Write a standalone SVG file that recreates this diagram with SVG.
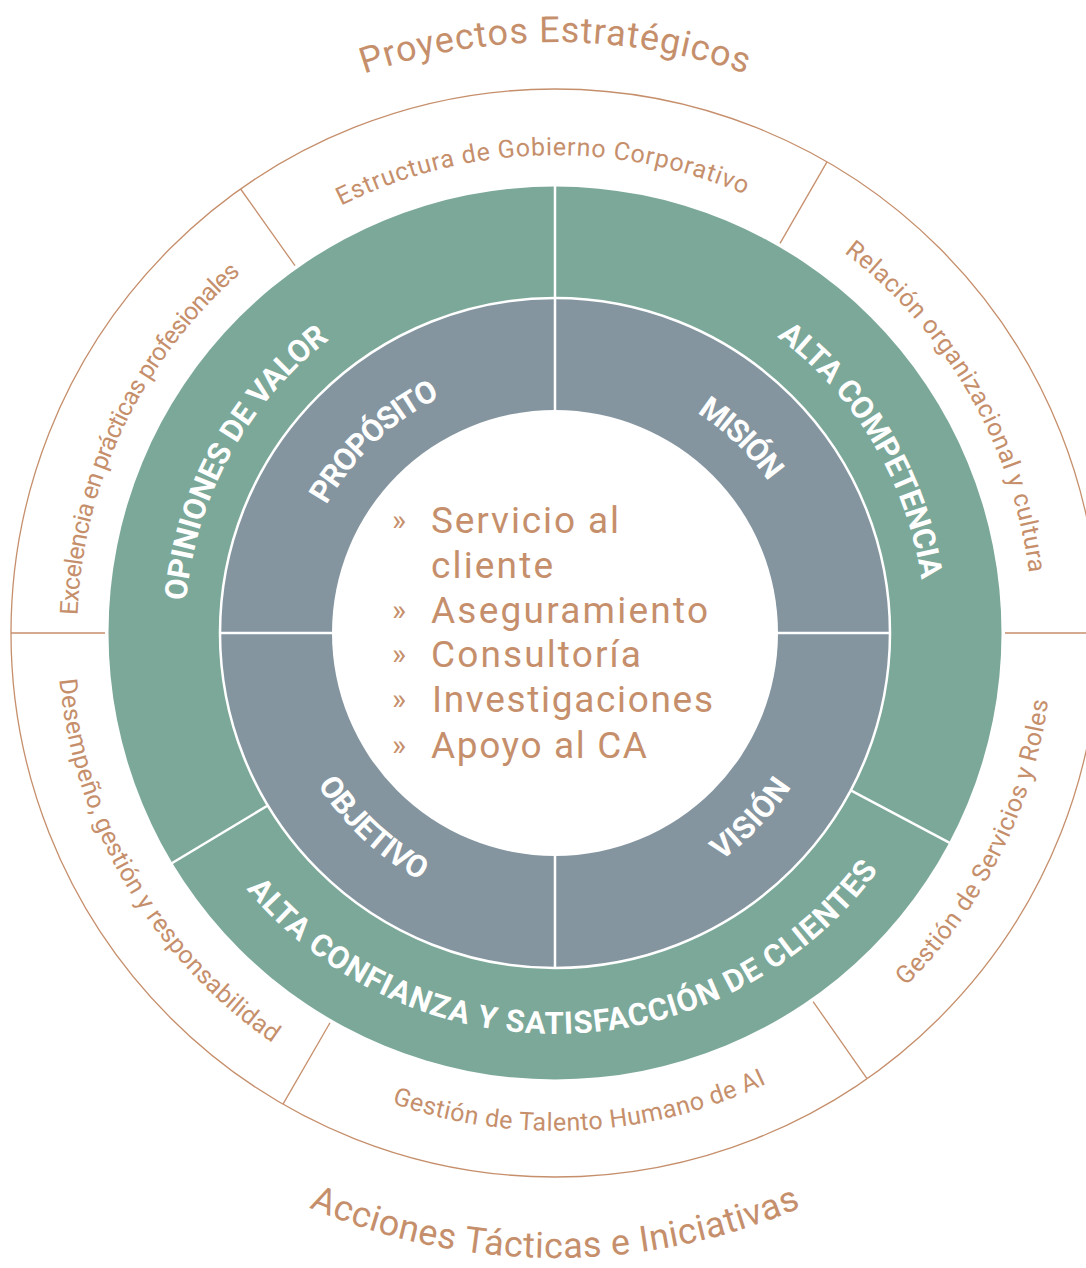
<svg xmlns="http://www.w3.org/2000/svg" width="1086" height="1268" viewBox="0 0 1086 1268">
<defs>
<path id="up591" d="M -27 530.4 A 591 591 0 0 1 1137 530.4"/>
<path id="lo625" d="M -60.5 741.5 A 625 625 0 0 0 1170.5 741.5"/>
<path id="up478" d="M 84.3 550 A 478 478 0 0 1 1025.7 550"/>
<path id="lo498" d="M 64.6 719.5 A 498 498 0 0 0 1045.4 719.5"/>
<path id="up370" d="M 190.6 568.7 A 370 370 0 0 1 919.4 568.7"/>
<path id="lo401" d="M 160.1 702.6 A 401 401 0 0 0 949.9 702.6"/>
<path id="up262" d="M 297 587.5 A 262 262 0 0 1 813 587.5"/>
<path id="lo282" d="M 277.3 682 A 282 282 0 0 0 832.7 682"/>
</defs>
<style>
.tan{fill:#c68f6c;font-family:Roboto,"Liberation Sans",sans-serif;}
.title{font-size:36px;}
.ring{font-size:25px;}
.lbl{fill:#fff;font-family:Roboto,"Liberation Sans",sans-serif;font-weight:700;font-size:31px;}
.list{font-size:37px;}
.bul{font-size:30px;}
.ln-tan{stroke:#c68f6c;stroke-width:1.3;fill:none;}
.ln-w{stroke:#fff;stroke-width:2.5;}
</style>
<rect width="1086" height="1268" fill="#fff"/>

<g id="rings">
<circle cx="555" cy="633" r="544" class="ln-tan"/>
<circle cx="555" cy="633" r="446.5" fill="#7ba899"/>
<circle cx="555" cy="633" r="335" fill="#8495a0" stroke="#fff" stroke-width="2.5"/>
<circle cx="555" cy="633" r="223" fill="#fff"/>
</g>

<g id="connectors">
<line class="ln-tan" x1="780" y1="243.3" x2="827" y2="161.9"/>
<line class="ln-tan" x1="295" y1="265.7" x2="240.6" y2="189"/>
<line class="ln-tan" x1="105" y1="633" x2="11" y2="633"/>
<line class="ln-tan" x1="1005" y1="633" x2="1099" y2="633"/>
<line class="ln-tan" x1="330" y1="1022.7" x2="283" y2="1104.1"/>
<line class="ln-tan" x1="813.1" y1="1001.6" x2="867" y2="1078.6"/>
<line class="ln-w" x1="555" y1="298" x2="555" y2="186"/>
<line class="ln-w" x1="267.8" y1="805.5" x2="171.8" y2="863.2"/>
<line class="ln-w" x1="850.8" y1="790.3" x2="949.7" y2="842.9"/>
<line class="ln-w" x1="555" y1="411" x2="555" y2="298"/>
<line class="ln-w" x1="555" y1="855" x2="555" y2="968"/>
<line class="ln-w" x1="333" y1="633" x2="220" y2="633"/>
<line class="ln-w" x1="777" y1="633" x2="890" y2="633"/>
</g>

<g id="titles">
<text class="tan title" text-anchor="middle"><textPath href="#up591" startOffset="50%" textLength="389">Proyectos Estratégicos</textPath></text>
<text class="tan title" text-anchor="middle"><textPath href="#lo625" startOffset="50%" textLength="506">Acciones Tácticas e Iniciativas</textPath></text>
</g>

<g id="outer-ring">
<text class="tan ring" text-anchor="middle" transform="rotate(-1.6 555 633)"><textPath href="#up478" startOffset="50%" textLength="417">Estructura de Gobierno Corporativo</textPath></text>
<text class="tan ring" text-anchor="middle" transform="rotate(60 555 633)"><textPath href="#up478" startOffset="50%" textLength="380">Relación organizacional y cultura</textPath></text>
<text class="tan ring" text-anchor="middle" transform="rotate(-64.5 555 633)"><textPath href="#up478" startOffset="50%" textLength="390">Excelencia en prácticas profesionales</textPath></text>
<text class="tan ring" text-anchor="middle" transform="rotate(-63.5 555 633)"><textPath href="#lo498" startOffset="50%" textLength="325">Gestión de Servicios y Roles</textPath></text>
<text class="tan ring" text-anchor="middle" transform="rotate(-3 555 633)"><textPath href="#lo498" startOffset="50%" textLength="385">Gestión de Talento Humano de AI</textPath></text>
<text class="tan ring" text-anchor="middle" transform="rotate(59.6 555 633)"><textPath href="#lo498" startOffset="50%" textLength="435">Desempeño, gestión y responsabilidad</textPath></text>
</g>

<g id="green-ring">
<text class="lbl" text-anchor="middle" transform="rotate(-61.3 555 633)"><textPath href="#up370" startOffset="50%" textLength="307">OPINIONES DE VALOR</textPath></text>
<text class="lbl" text-anchor="middle" transform="rotate(59.3 555 633)"><textPath href="#up370" startOffset="50%" textLength="290">ALTA COMPETENCIA</textPath></text>
<text class="lbl" text-anchor="middle" transform="rotate(-1.7 555 633)"><textPath href="#lo401" startOffset="50%" textLength="728">ALTA CONFIANZA Y SATISFACCIÓN DE CLIENTES</textPath></text>
</g>

<g id="gray-ring">
<text class="lbl" text-anchor="middle" transform="rotate(-43.4 555 633)"><textPath href="#up262" startOffset="50%" textLength="159">PROPÓSITO</textPath></text>
<text class="lbl" text-anchor="middle" transform="rotate(43.7 555 633)"><textPath href="#up262" startOffset="50%" textLength="100">MISIÓN</textPath></text>
<text class="lbl" text-anchor="middle" transform="rotate(43 555 633)"><textPath href="#lo282" startOffset="50%" textLength="142">OBJETIVO</textPath></text>
<text class="lbl" text-anchor="middle" transform="rotate(-46.5 555 633)"><textPath href="#lo282" startOffset="50%" textLength="103">VISIÓN</textPath></text>
</g>

<g id="center-list" class="tan">
<text class="bul" x="392" y="530">»</text>
<text class="list" x="431" y="533" textLength="188">Servicio al</text>
<text class="list" x="431" y="578" textLength="122">cliente</text>
<text class="bul" x="392" y="620">»</text>
<text class="list" x="431" y="623" textLength="277">Aseguramiento</text>
<text class="bul" x="392" y="664">»</text>
<text class="list" x="431" y="667" textLength="210">Consultoría</text>
<text class="bul" x="392" y="709">»</text>
<text class="list" x="432" y="712" textLength="281">Investigaciones</text>
<text class="bul" x="392" y="755">»</text>
<text class="list" x="431" y="758" textLength="216">Apoyo al CA</text>
</g>
</svg>
